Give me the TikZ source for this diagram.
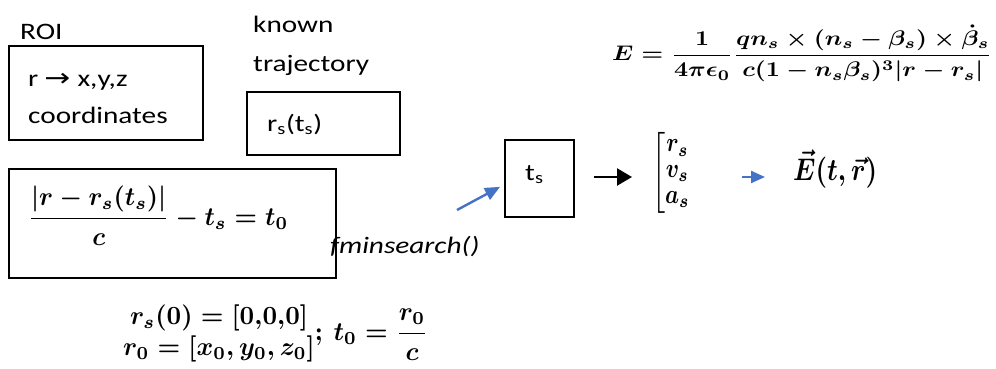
\documentclass[tikz,border=0pt]{standalone}
\usepackage{amsmath}
\usepackage{graphicx}
\usepackage{fontspec}
\setmainfont{Carlito}
\newfontfamily\arrfont{DejaVu Sans}
\usetikzlibrary{arrows.meta}
\definecolor{officeblue}{HTML}{4472C4}
\newcommand{\hst}[1]{\scalebox{1.24}[1]{#1}}
\tikzset{
  lbl/.style={anchor=base west, inner sep=0pt, font=\fontsize{23.6}{28}\selectfont},
  boxnode/.style={draw, line width=1.2pt, inner sep=0pt},
  eqn/.style={anchor=north west, inner sep=0pt, font=\boldmath},
  blk/.style={line width=2.4pt, -{Triangle[length=15pt,width=17pt]}},
  blu/.style={officeblue, line width=2.2pt, -{Triangle[length=14pt,width=12pt]}},
}
\begin{document}
\begin{tikzpicture}[x=1pt,y=-1pt]
\useasboundingbox (0,0) rectangle (996,369);
% boxes
\node[boxnode, minimum width=194pt, minimum height=94pt] (roi) at (106,93) {};
\node[boxnode, minimum width=153pt, minimum height=63pt] (traj) at (323.5,123.5) {};
\node[boxnode, minimum width=327pt, minimum height=109pt] (eqbox) at (172.5,223.5) {};
\node[boxnode, minimum width=69pt, minimum height=77pt] (ts) at (539.5,178.5) {};
% labels
\node[lbl] (roilbl) at (20,40) {\hst{ROI}};
\node[lbl] (rxyz) at (28,87) {\hst{r\hspace{0.2em}{\arrfont\fontsize{25}{28}\selectfont →}\hspace{0.25em}x,y,z}};
\node[lbl] (coord) at (28,123) {\hst{coordinates}};
\node[lbl] (known) at (253,33) {\hst{known}};
\node[lbl] (trajlbl) at (253,72) {\hst{trajectory}};
\node[lbl] (rsts) at (267,131) {\hst{r\textsubscript{s}(t\textsubscript{s})}};
\node[lbl] (tslbl) at (525,180) {\hst{t\textsubscript{s}}};
\node[lbl] (fmin) at (330,253) {\hst{\itshape fminsearch()}};
% equations
\node[eqn] (efield) at (612,25) {\resizebox*{380pt}{57pt}{$E=\dfrac{1}{4\pi\epsilon_0}\dfrac{q n_s\times(n_s-\beta_s)\times\dot{\beta}_s}{c(1-n_s\beta_s)^3|r-r_s|}$}};
\node[eqn] (reteq) at (28,186) {\resizebox*{260pt}{59pt}{$\dfrac{|r-r_s(t_s)|}{c}-t_s=t_0$}};
\node[eqn] (inits) at (123,302) {\resizebox*{305pt}{63pt}{$\begin{matrix} r_s(0)=[0{,}0{,}0]\\ r_0=[x_0,y_0,z_0]\end{matrix};\ t_0=\dfrac{r_0}{c}$}};
\node[eqn] (mat) at (652,132) {\resizebox*{40pt}{81pt}{\renewcommand{\arraystretch}{0.8}$\left[\begin{matrix} r_s\\ v_s\\ a_s\end{matrix}\right.$}};
\node[eqn] (evec) at (793,150) {\resizebox*{84pt}{38pt}{$\vec{E}(t,\vec{r})$}};
% connectors
\coordinate (fs) at (457,210);
\draw[blu, line width=2.4pt, -{Triangle[length=15pt,width=13pt]}, shorten >=5pt] (fs) -- ([yshift=-6pt]ts.west);
\draw[blk, shorten <=19pt, shorten >=20pt] (ts.east |- 0,177) -- (mat.west |- 0,177);
\draw[blu, shorten <=50pt, shorten >=28pt] (mat.east |- 0,177) -- (evec.west |- 0,177);
\end{tikzpicture}
\end{document}
